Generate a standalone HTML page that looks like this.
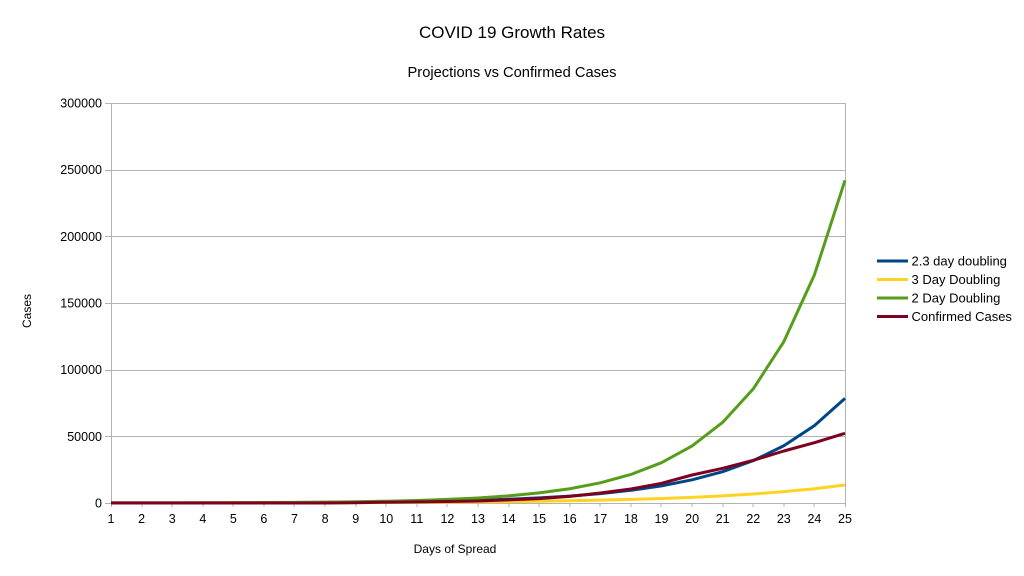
<!DOCTYPE html>
<html><head><meta charset="utf-8"><style>
html,body{margin:0;padding:0;background:#fff;}
svg{display:block;}
text{font-family:"Liberation Sans",sans-serif;fill:#000;}
</style></head><body>
<svg width="1024" height="576" viewBox="0 0 1024 576" xmlns="http://www.w3.org/2000/svg">
<rect width="1024" height="576" fill="#fff"/>
<text x="512" y="38" font-size="17" text-anchor="middle">COVID 19 Growth Rates</text>
<text x="512" y="77" font-size="14.7" text-anchor="middle">Projections vs Confirmed Cases</text>
<g stroke="#b3b3b3" stroke-width="1" fill="none" shape-rendering="crispEdges">
<line x1="105" y1="103.5" x2="845" y2="103.5"/>
<line x1="105" y1="170.5" x2="845" y2="170.5"/>
<line x1="105" y1="236.5" x2="845" y2="236.5"/>
<line x1="105" y1="303.5" x2="845" y2="303.5"/>
<line x1="105" y1="370.5" x2="845" y2="370.5"/>
<line x1="105" y1="436.5" x2="845" y2="436.5"/>
<line x1="105" y1="503.5" x2="845" y2="503.5"/>
<line x1="111.5" y1="103" x2="111.5" y2="507"/>
<line x1="845.5" y1="103" x2="845.5" y2="507"/>
<line x1="142" y1="503" x2="142" y2="507"/>
<line x1="172" y1="503" x2="172" y2="507"/>
<line x1="203" y1="503" x2="203" y2="507"/>
<line x1="233" y1="503" x2="233" y2="507"/>
<line x1="264" y1="503" x2="264" y2="507"/>
<line x1="294" y1="503" x2="294" y2="507"/>
<line x1="325" y1="503" x2="325" y2="507"/>
<line x1="356" y1="503" x2="356" y2="507"/>
<line x1="386" y1="503" x2="386" y2="507"/>
<line x1="417" y1="503" x2="417" y2="507"/>
<line x1="447" y1="503" x2="447" y2="507"/>
<line x1="478" y1="503" x2="478" y2="507"/>
<line x1="509" y1="503" x2="509" y2="507"/>
<line x1="539" y1="503" x2="539" y2="507"/>
<line x1="570" y1="503" x2="570" y2="507"/>
<line x1="600" y1="503" x2="600" y2="507"/>
<line x1="631" y1="503" x2="631" y2="507"/>
<line x1="661" y1="503" x2="661" y2="507"/>
<line x1="692" y1="503" x2="692" y2="507"/>
<line x1="723" y1="503" x2="723" y2="507"/>
<line x1="753" y1="503" x2="753" y2="507"/>
<line x1="784" y1="503" x2="784" y2="507"/>
<line x1="814" y1="503" x2="814" y2="507"/>
</g>
<g font-size="12.5" text-anchor="end">
<text x="102" y="107.5">300000</text>
<text x="102" y="174">250000</text>
<text x="102" y="241">200000</text>
<text x="102" y="307.5">150000</text>
<text x="102" y="374">100000</text>
<text x="102" y="441">50000</text>
<text x="102" y="507.5">0</text>
</g>
<g font-size="12.5" text-anchor="middle">
<text x="111" y="523">1</text><text x="141.6" y="523">2</text><text x="172.2" y="523">3</text><text x="202.8" y="523">4</text><text x="233.3" y="523">5</text><text x="263.9" y="523">6</text><text x="294.5" y="523">7</text><text x="325.1" y="523">8</text><text x="355.7" y="523">9</text><text x="386.3" y="523">10</text><text x="416.8" y="523">11</text><text x="447.4" y="523">12</text><text x="478" y="523">13</text><text x="508.6" y="523">14</text><text x="539.2" y="523">15</text><text x="569.8" y="523">16</text><text x="600.3" y="523">17</text><text x="630.9" y="523">18</text><text x="661.5" y="523">19</text><text x="692.1" y="523">20</text><text x="722.7" y="523">21</text><text x="753.3" y="523">22</text><text x="783.8" y="523">23</text><text x="814.4" y="523">24</text><text x="845" y="523">25</text>
</g>
<text x="455" y="553" font-size="12" text-anchor="middle">Days of Spread</text>
<text transform="translate(31,311) rotate(-90)" font-size="12" text-anchor="middle">Cases</text>
<g fill="none" stroke-width="3" stroke-linejoin="round" stroke-linecap="butt">
<polyline stroke="#004586" points="111,502.93 141.58,502.9 172.17,502.86 202.75,502.82 233.33,502.75 263.92,502.66 294.5,502.54 325.08,502.38 355.67,502.16 386.25,501.86 416.83,501.47 447.42,500.92 478,500.19 508.58,499.21 539.17,497.87 569.75,496.07 600.33,493.62 630.92,490.32 661.5,485.86 692.08,479.83 722.67,471.67 753.25,460.65 783.83,445.74 814.42,425.58 845,398.33"/>
<polyline stroke="#ffd320" points="111,502.93 141.58,502.91 172.17,502.88 202.75,502.85 233.33,502.8 263.92,502.75 294.5,502.68 325.08,502.62 355.67,502.55 386.25,502.43 416.83,502.29 447.42,502.11 478,501.88 508.58,501.58 539.17,501.21 569.75,500.75 600.33,500.17 630.92,499.43 661.5,498.5 692.08,497.33 722.67,495.86 753.25,494 783.83,491.66 814.42,488.71 845,485"/>
<polyline stroke="#579d1c" points="111,502.92 141.58,502.89 172.17,502.84 202.75,502.78 233.33,502.69 263.92,502.55 294.5,502.37 325.08,502.11 355.67,501.74 386.25,501.22 416.83,500.48 447.42,499.43 478,497.96 508.58,495.87 539.17,492.92 569.75,488.74 600.33,482.83 630.92,474.48 661.5,462.67 692.08,445.96 722.67,422.33 753.25,388.92 783.83,341.67 814.42,274.84 845,180.33"/>
<polyline stroke="#7e0021" points="111,503 141.58,503 172.17,503 202.75,503 233.33,503 263.92,503 294.5,503 325.08,503 355.67,502.8 386.25,502.2 416.83,501.93 447.42,501.53 478,501 508.58,499.93 539.17,498.6 569.75,496.33 600.33,493 630.92,489 661.5,483.33 692.08,475 722.67,468.33 753.25,460.33 783.83,451 814.42,442.73 845,433.27"/>
</g>
<g stroke-width="3">
<line x1="877" y1="261" x2="908" y2="261" stroke="#004586"/>
<line x1="877" y1="279.5" x2="908" y2="279.5" stroke="#ffd320"/>
<line x1="877" y1="298" x2="908" y2="298" stroke="#579d1c"/>
<line x1="877" y1="316.5" x2="908" y2="316.5" stroke="#7e0021"/>
</g>
<g font-size="13">
<text x="911.5" y="265.5">2.3 day doubling</text>
<text x="911.5" y="284">3 Day Doubling</text>
<text x="911.5" y="302.5">2 Day Doubling</text>
<text x="911.5" y="321">Confirmed Cases</text>
</g>
</svg>
</body></html>
